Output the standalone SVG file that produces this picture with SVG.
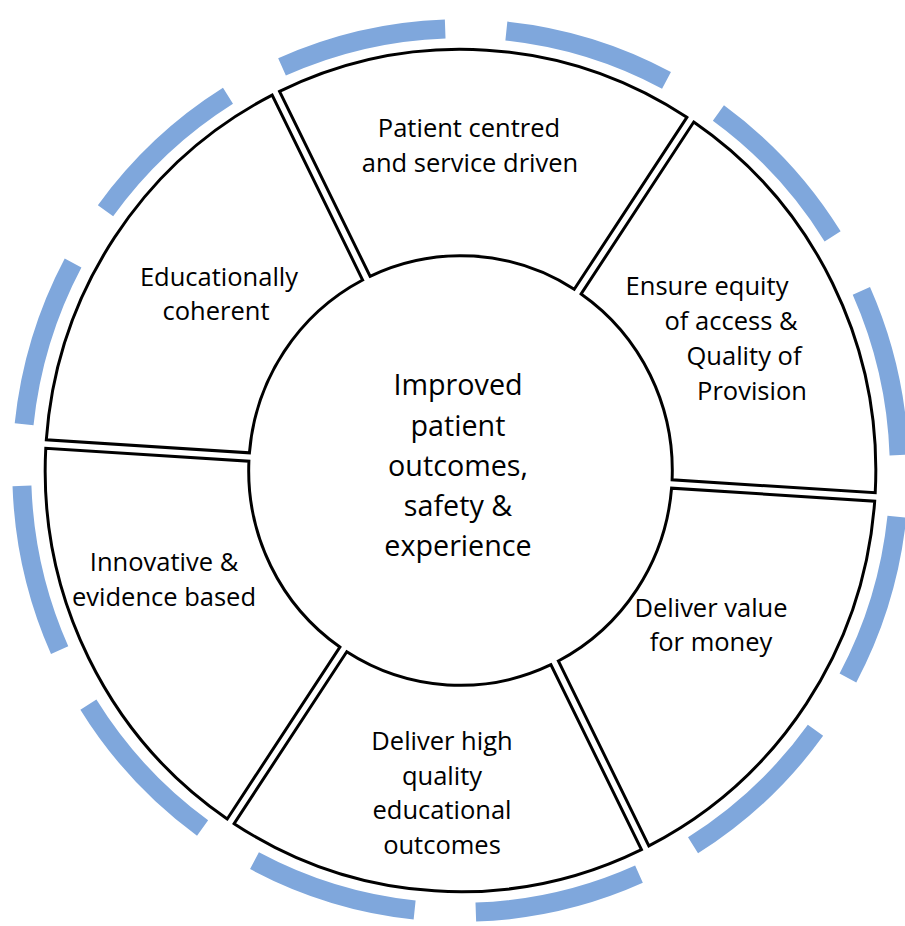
<svg xmlns="http://www.w3.org/2000/svg" width="905" height="926" viewBox="0 0 905 926">
<style>
.seg{fill:#fff;stroke:#000;stroke-width:3;stroke-linejoin:miter}
.band{fill:none;stroke:#7fa7dc;stroke-width:19}
.lbl{font-family:"Open Sans","Liberation Sans",sans-serif;font-size:25.5px;font-weight:500;fill:#000;text-anchor:middle}
.hub{font-family:"Open Sans","Liberation Sans",sans-serif;font-size:28.7px;font-weight:500;fill:#000;text-anchor:middle}
</style>
<defs>
<path id="wedge" d="M421.18,4.2 A421.2,421.2 0 0 1 214.23,362.65 L111.02,183.89 A214.8,214.8 0 0 0 214.76,4.2 Z"/>
</defs>
<rect width="905" height="926" fill="#fff"/>
<g id="outer-band" transform="translate(460.5,470.5) scale(0.995,1.002)">
<path class="band" d="M438.58,46.10 A441,441 0 0 1 389.38,207.04 M356.78,259.21 A441,441 0 0 1 233.69,373.99 M179.37,402.87 A441,441 0 0 1 15.39,440.73 M-46.10,438.58 A441,441 0 0 1 -207.04,389.38 M-259.21,356.78 A441,441 0 0 1 -373.99,233.69 M-402.87,179.37 A441,441 0 0 1 -440.73,15.39 M-438.58,-46.10 A441,441 0 0 1 -389.38,-207.04 M-356.78,-259.21 A441,441 0 0 1 -233.69,-373.99 M-179.37,-402.87 A441,441 0 0 1 -15.39,-440.73 M46.10,-438.58 A441,441 0 0 1 207.04,-389.38 M259.21,-356.78 A441,441 0 0 1 373.99,-233.69 M402.87,-179.37 A441,441 0 0 1 440.73,-15.39"/>
</g>
<g id="seg-value">
<use href="#wedge" class="seg" transform="translate(460.5,470.5) scale(0.986,1) rotate(3.6)"/>
<text class="lbl" x="711" y="617">Deliver value</text>
<text class="lbl" x="711" y="651">for money</text>
</g>
<g id="seg-outcomes">
<use href="#wedge" class="seg" transform="translate(460.5,470.5) scale(0.986,1) rotate(63.6)"/>
<text class="lbl" x="442" y="750">Deliver high</text>
<text class="lbl" x="442" y="784.5">quality</text>
<text class="lbl" x="442" y="819">educational</text>
<text class="lbl" x="442" y="853.5">outcomes</text>
</g>
<g id="seg-innovative">
<use href="#wedge" class="seg" transform="translate(460.5,470.5) scale(0.986,1) rotate(123.6)"/>
<text class="lbl" x="164" y="571">Innovative &amp;</text>
<text class="lbl" x="164" y="606">evidence based</text>
</g>
<g id="seg-educational">
<use href="#wedge" class="seg" transform="translate(460.5,470.5) scale(0.986,1) rotate(183.6)"/>
<text class="lbl" x="219" y="286">Educationally</text>
<text class="lbl" x="216" y="320">coherent</text>
</g>
<g id="seg-patient">
<use href="#wedge" class="seg" transform="translate(460.5,470.5) scale(0.986,1) rotate(243.6)"/>
<text class="lbl" x="469" y="137">Patient centred</text>
<text class="lbl" x="470" y="171.5">and service driven</text>
</g>
<g id="seg-equity">
<use href="#wedge" class="seg" transform="translate(460.5,470.5) scale(0.986,1) rotate(303.6)"/>
<text class="lbl" x="707" y="295">Ensure equity</text>
<text class="lbl" x="731" y="330">of access &amp;</text>
<text class="lbl" x="744" y="365">Quality of</text>
<text class="lbl" x="752" y="400">Provision</text>
</g>
<g id="hub">
<text class="hub" x="458" y="395">Improved</text>
<text class="hub" x="458" y="435.5">patient</text>
<text class="hub" x="458" y="476">outcomes,</text>
<text class="hub" x="458" y="516">safety &amp;</text>
<text class="hub" x="458" y="556">experience</text>
</g>
</svg>
